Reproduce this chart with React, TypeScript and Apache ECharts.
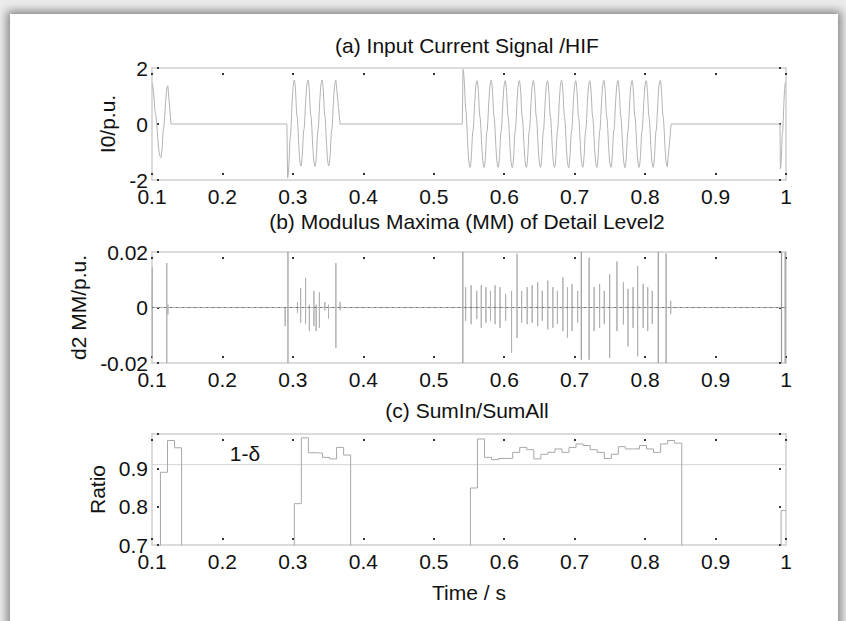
import React, { useEffect, useRef } from "react";
import * as echarts from "echarts";

// ---------- data ----------
const X_MIN = 0.1;
const X_MAX = 1.0;

// (a) input current: extremes of each half-cycle [t, value]
const burst1Extremes: number[][] = [[0.1, 1.45], [0.1125, -1.2], [0.1225, 1.37]];
const burst2Extremes: number[][] = [
  [0.2925, -1.93], [0.302, 1.57], [0.3115, -1.5], [0.3215, 1.57], [0.3315, -1.52],
  [0.3415, 1.57], [0.351, -1.5], [0.361, 1.57],
];
const burst3Extremes: number[][] = [
  [0.5415, 1.95], [0.5515, -1.55], [0.5615, 1.55], [0.5715, -1.55], [0.5815, 1.56],
  [0.5915, -1.55], [0.6015, 1.55], [0.6115, -1.56], [0.6215, 1.55], [0.6315, -1.55],
  [0.6415, 1.56], [0.6515, -1.55], [0.6615, 1.55], [0.6715, -1.55], [0.6815, 1.56],
  [0.6915, -1.56], [0.7015, 1.55], [0.7115, -1.55], [0.7215, 1.55], [0.7315, -1.55],
  [0.7415, 1.56], [0.7515, -1.55], [0.7615, 1.55], [0.7715, -1.56], [0.7815, 1.55],
  [0.7915, -1.55], [0.8015, 1.55], [0.8115, -1.55], [0.8215, 1.56], [0.8315, -1.53],
];
const burst4Extremes: number[][] = [[0.992, -1.6], [0.9995, 1.5]];
// burst start (leaves zero) / end (returns to zero) times
const burstStarts: (number | null)[] = [null, 0.2915, 0.5405, 0.9915];
const burstEnds: (number | null)[] = [0.127, 0.367, 0.837, null];
// shape of one half-cycle between two extremes: [time fraction, normalised level 1 -> -1]
const halfCycleShape: number[][] = [
  [0, 1], [0.08, 0.95], [0.2, 0.72], [0.32, 0.3], [0.38, 0.18], [0.46, 0.12],
  [0.54, -0.1], [0.66, -0.5], [0.8, -0.85], [0.92, -0.97], [1, -1],
];

// (b) modulus maxima spikes [t, up, down]
const mmSpikes: number[][] = [
  [0.1005, 0.0145, -0.018], [0.121, 0.016, -0.02], [0.1226, 0.001, -0.0025],
  [0.289, 0, -0.0067], [0.3065, 0.002, -0.002], [0.311, 0.007, -0.0055],
  [0.318, 0.0107, -0.006], [0.3234, 0.001, -0.0085], [0.3298, 0.006, -0.0067],
  [0.333, 0.001, -0.0085], [0.3376, 0.0055, -0.0073], [0.3454, 0.002, -0.001],
  [0.3506, 0.001, -0.004], [0.361, 0.016, -0.0145], [0.367, 0.002, -0.001],
  [0.5452, 0.0073, -0.0048], [0.553, 0.008, -0.006], [0.561, 0.006, -0.0042],
  [0.5674, 0.008, -0.0073], [0.574, 0.0073, -0.0055], [0.5805, 0.006, -0.0048],
  [0.587, 0.008, -0.006], [0.594, 0.0073, -0.0073], [0.602, 0.0048, -0.0048],
  [0.6104, 0.006, -0.0164], [0.6182, 0.0194, -0.011], [0.6247, 0.006, -0.0055],
  [0.6326, 0.0073, -0.006], [0.6397, 0.008, -0.0055], [0.6475, 0.0091, -0.0067],
  [0.654, 0.006, -0.0048], [0.6618, 0.0097, -0.0079], [0.669, 0.0073, -0.0073],
  [0.6755, 0.006, -0.006], [0.6833, 0.0109, -0.0085], [0.6898, 0.0073, -0.011],
  [0.6963, 0.0085, -0.0085], [0.7042, 0.006, -0.0055], [0.7276, 0.0073, -0.0085],
  [0.7354, 0.0085, -0.0073], [0.742, 0.006, -0.006], [0.7497, 0.012, -0.0182],
  [0.76, 0.0166, -0.0085], [0.7692, 0.0091, -0.0061], [0.7757, 0.0067, -0.014],
  [0.7829, 0.0073, -0.0073], [0.7894, 0.015, -0.0176], [0.7972, 0.0085, -0.0073],
  [0.8037, 0.0073, -0.0085], [0.8102, 0.006, -0.006], [0.8363, 0.0024, -0.0024],
];
// (b) full-height lines [t, up, down]
const mmFullLines: number[][] = [
  [0.293, 0.02, -0.02], [0.5413, 0.02, -0.02], [0.7094, 0.02, -0.0188],
  [0.7205, 0.018, -0.0188], [0.8187, 0.02, -0.02], [0.8298, 0.0195, -0.02],
  [0.9936, 0.02, -0.02], [0.9988, 0.02, -0.02],
];

// (c) SumIn/SumAll stairs [window start, ratio]; 0 = below axis
const ratioSteps: number[][] = [
  [0.1, 0], [0.112, 0.89], [0.122, 0.973], [0.132, 0.954], [0.142, 0],
  [0.302, 0.808], [0.312, 0.98], [0.322, 0.941], [0.332, 0.94], [0.342, 0.929],
  [0.352, 0.925], [0.362, 0.955], [0.372, 0.935], [0.382, 0],
  [0.552, 0.849], [0.562, 0.977], [0.572, 0.929], [0.582, 0.923], [0.592, 0.926],
  [0.602, 0.926], [0.612, 0.942], [0.622, 0.955], [0.632, 0.949], [0.642, 0.925],
  [0.652, 0.937], [0.662, 0.942], [0.672, 0.951], [0.682, 0.942], [0.692, 0.955],
  [0.702, 0.964], [0.712, 0.96], [0.722, 0.949], [0.732, 0.942], [0.742, 0.926],
  [0.752, 0.937], [0.762, 0.957], [0.772, 0.951], [0.782, 0.951], [0.792, 0.96],
  [0.802, 0.951], [0.812, 0.942], [0.822, 0.964], [0.832, 0.973], [0.842, 0.966],
  [0.852, 0], [0.993, 0.79], [1.0, 0.79],
];
const threshold = 0.91;
const thresholdLabel = "1-δ";
const thresholdLabelT = 0.232;

const titles = [
  "(a) Input Current Signal /HIF",
  "(b) Modulus Maxima (MM) of Detail Level2",
  "(c) SumIn/SumAll",
];
const yNames = ["I0/p.u.", "d2 MM/p.u.", "Ratio"];
const xName = "Time / s";

// ---------- builders ----------
function buildWave(): number[][] {
  const all = [burst1Extremes, burst2Extremes, burst3Extremes, burst4Extremes];
  const pts: number[][] = [];
  all.forEach((ex, bi) => {
    const s = burstStarts[bi];
    if (s !== null) pts.push([s, 0]);
    for (let i = 0; i < ex.length; i++) {
      if (i === 0) {
        pts.push(ex[0]);
        continue;
      }
      const [t0, v0] = ex[i - 1];
      const [t1, v1] = ex[i];
      for (let k = 1; k < halfCycleShape.length; k++) {
        const [f, lv] = halfCycleShape[k];
        pts.push([t0 + (t1 - t0) * f, v0 + ((v1 - v0) * (1 - lv)) / 2]);
      }
    }
    const e = burstEnds[bi];
    if (e !== null) pts.push([e, 0]);
  });
  return pts;
}

function buildSpikes(list: number[][], withEnds: boolean): (number | null)[][] {
  const pts: (number | null)[][] = [];
  if (withEnds) pts.push([X_MIN, 0]);
  list.forEach(([t, up, dn]) => {
    pts.push([t, 0], [t, up], [t, dn], [t, 0]);
    if (!withEnds) pts.push([t, null]);
  });
  if (withEnds) pts.push([X_MAX, 0]);
  return pts;
}

const FONT = "'Liberation Sans', Arial, Helvetica, sans-serif";
const FS = 21;
const AXIS_GRAY = "#cfcfcf";
const TICK_DARK = "#333";

const GRID_LEFT = 152;
const GRID_RIGHT = 60;
const grids = [
  { top: 68, height: 112 },
  { top: 252, height: 111 },
  { top: 434, height: 111 },
];
const yRanges = [
  { min: -2, max: 2, interval: 2 },
  { min: -0.02, max: 0.02, interval: 0.02 },
  { min: 0.7, max: 0.99, interval: 0.1 },
];
const titleTops = [35, 211, 400];
const nameGaps = [32, 57, 41];

export default function App() {
  const ref = useRef<HTMLDivElement>(null);
  useEffect(() => {
    if (!ref.current) return;
    const chart = echarts.init(ref.current, null, { renderer: "svg" });

    const tickStyle = {
      show: true,
      inside: true,
      length: 8,
      lineStyle: { color: TICK_DARK, width: 2, type: [0, 5, 2, 30] as any },
    };
    const xAxes: any[] = [];
    const yAxes: any[] = [];
    grids.forEach((_, gi) => {
      const xBase = {
        type: "value",
        gridIndex: gi,
        min: X_MIN,
        max: X_MAX,
        interval: 0.1,
        splitLine: { show: false },
        axisLine: { show: true, onZero: false, lineStyle: { color: AXIS_GRAY, width: 1.5 } },
        axisTick: tickStyle,
      };
      xAxes.push({
        ...xBase,
        position: "bottom",
        axisLabel: {
          show: true,
          margin: 6,
          color: "#111",
          fontFamily: FONT,
          fontSize: FS,
          formatter: (v: number) => String(Number(v.toFixed(1))),
        },
        ...(gi === 2
          ? {
              name: xName,
              nameLocation: "middle",
              nameGap: 37,
              nameTextStyle: { color: "#111", fontFamily: FONT, fontSize: FS },
            }
          : {}),
      });
      xAxes.push({ ...xBase, position: "top", axisLabel: { show: false } });
      const r = yRanges[gi];
      const yBase = {
        type: "value",
        gridIndex: gi,
        min: r.min,
        max: r.max,
        interval: r.interval,
        splitLine: { show: false },
        axisLine: { show: true, onZero: false, lineStyle: { color: AXIS_GRAY, width: 1.5 } },
        axisTick: tickStyle,
      };
      yAxes.push({
        ...yBase,
        position: "left",
        name: yNames[gi],
        nameLocation: "middle",
        nameGap: nameGaps[gi],
        nameTextStyle: { color: "#111", fontFamily: FONT, fontSize: FS },
        axisLabel: {
          show: true,
          margin: 4,
          color: "#111",
          fontFamily: FONT,
          fontSize: FS,
          formatter: (v: number) => {
            const k = v / r.interval;
            if (Math.abs(k - Math.round(k)) > 1e-6) return "";
            return String(Number(v.toFixed(4)));
          },
        },
      });
      yAxes.push({ ...yBase, position: "right", axisLabel: { show: false } });
    });

    const option: any = {
      animation: false,
      backgroundColor: "transparent",
      title: titles.map((t, i) => ({
        text: t,
        left: 467,
        top: titleTops[i],
        textAlign: "center",
        padding: 0,
        textStyle: { color: "#111", fontFamily: FONT, fontSize: FS, fontWeight: "normal" },
      })),
      grid: grids.map((g) => ({ left: GRID_LEFT, right: GRID_RIGHT, top: g.top, height: g.height })),
      xAxis: xAxes,
      yAxis: yAxes,
      series: [
        {
          type: "line",
          xAxisIndex: 0,
          yAxisIndex: 0,
          data: buildWave(),
          showSymbol: false,
          symbol: "none",
          lineStyle: { color: "#b4b4b4", width: 1 },
        },
        {
          type: "line",
          xAxisIndex: 2,
          yAxisIndex: 2,
          data: buildSpikes(mmSpikes, true),
          showSymbol: false,
          symbol: "none",
          lineStyle: { color: "#b0b0b0", width: 1 },
          markLine: {
            silent: true,
            symbol: "none",
            label: { show: false },
            lineStyle: { color: "#777", width: 1, type: [2, 4] },
            data: [{ yAxis: 0 }],
          },
        },
        {
          type: "line",
          xAxisIndex: 2,
          yAxisIndex: 2,
          data: buildSpikes(mmFullLines, false),
          connectNulls: false,
          showSymbol: false,
          symbol: "none",
          lineStyle: { color: "#999", width: 1.2 },
        },
        {
          type: "line",
          xAxisIndex: 4,
          yAxisIndex: 4,
          data: [
            [X_MIN, threshold],
            [X_MAX, threshold],
          ],
          showSymbol: false,
          symbol: "none",
          lineStyle: { color: "#d6d6d6", width: 1 },
          markPoint: {
            symbol: "circle",
            symbolSize: 0,
            label: {
              show: true,
              position: "top",
              distance: 1,
              formatter: thresholdLabel,
              color: "#111",
              fontFamily: FONT,
              fontSize: FS,
            },
            data: [{ coord: [thresholdLabelT, threshold] }],
          },
        },
        {
          type: "line",
          xAxisIndex: 4,
          yAxisIndex: 4,
          step: "end",
          data: ratioSteps,
          showSymbol: false,
          symbol: "none",
          lineStyle: { color: "#a8a8a8", width: 1 },
        },
      ],
    };
    chart.setOption(option);
    return () => chart.dispose();
  }, []);

  return (
    <div style={{ position: "absolute", left: 0, top: 0, width: 846, height: 621, background: "#ececec", overflow: "hidden" }}>
      <div
        style={{
          position: "absolute",
          left: 10,
          top: 14,
          width: 828,
          height: 640,
          background: "#fff",
          boxShadow: "0 0 9px 3px rgba(0,0,0,0.45)",
        }}
      />
      <div ref={ref} style={{ position: "absolute", left: 0, top: 0, width: 846, height: 621 }} />
    </div>
  );
}
